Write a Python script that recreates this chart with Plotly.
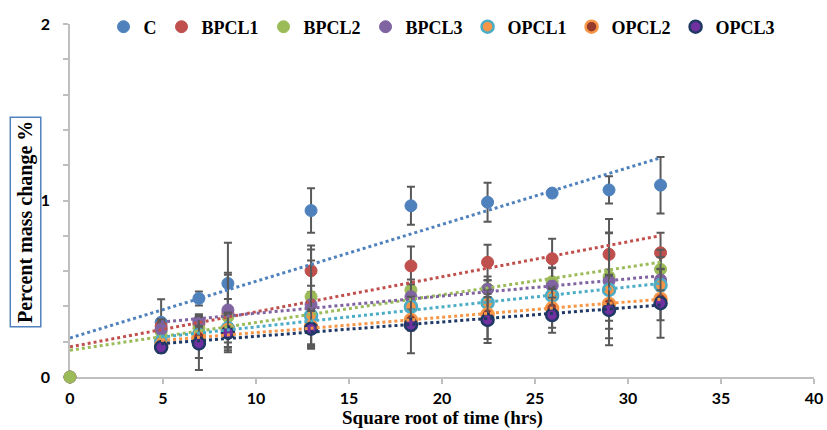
import numpy as np
import plotly.graph_objects as go

# Square root of exposure time (hrs^0.5)
sqrt_time = [0, 4.90, 6.93, 8.49, 12.96, 18.33, 22.45, 25.92, 28.98, 31.75]

# Mean percent mass change per mix (None = no reading at that time)
c_vals = [0, 0.310, 0.445, 0.530, 0.943, 0.970, 0.990, 1.042, 1.060, 1.087]
bpcl1_vals = [0, 0.287, 0.300, 0.360, 0.602, 0.629, 0.650, 0.670, 0.695, 0.704]
bpcl2_vals = [0, 0.257, 0.276, 0.342, 0.455, 0.493, 0.500, 0.540, 0.568, 0.610]
bpcl3_vals = [None, 0.270, 0.316, 0.380, 0.410, 0.455, 0.497, 0.516, 0.544, 0.550]
opcl1_vals = [None, 0.200, 0.238, 0.276, 0.347, 0.398, 0.421, 0.461, 0.493, 0.521]
opcl2_vals = [None, 0.176, 0.228, 0.266, 0.285, 0.323, 0.355, 0.389, 0.414, 0.442]
opcl3_vals = [None, 0.168, 0.190, 0.251, 0.274, 0.295, 0.323, 0.351, 0.380, 0.418]

# Standard deviations
c_err = [0, 0.13, 0.04, 0.23, 0.126, 0.108, 0.111, 0.023, 0.077, 0.16]
bpcl1_err = [0, 0.04, 0.05, 0.22, 0.12, 0.11, 0.10, 0.113, 0.20, 0.113]
bpcl2_err = [0, 0.05, 0.06, 0.10, 0.29, 0.06, 0.07, 0.08, 0.25, 0.07]
bpcl3_err = [None, 0.05, 0.04, 0.21, 0.25, 0.07, 0.05, 0.10, 0.27, 0.06]
opcl1_err = [None, 0.03, 0.05, 0.08, 0.17, 0.05, 0.05, 0.05, 0.08, 0.20]
opcl2_err = [None, 0.03, 0.12, 0.10, 0.10, 0.06, 0.14, 0.11, 0.195, 0.05]
opcl3_err = [None, 0.03, 0.15, 0.10, 0.10, 0.16, 0.13, 0.10, 0.20, 0.195]

series = [
    # name, values, errors, marker fill, marker outline, trendline colour
    ("C", c_vals, c_err, "#4F81BD", "#4F81BD", "#4F81BD"),
    ("BPCL1", bpcl1_vals, bpcl1_err, "#C0504D", "#C0504D", "#C0504D"),
    ("BPCL2", bpcl2_vals, bpcl2_err, "#9BBB59", "#9BBB59", "#9BBB59"),
    ("BPCL3", bpcl3_vals, bpcl3_err, "#8064A2", "#8064A2", "#8064A2"),
    ("OPCL1", opcl1_vals, opcl1_err, "#F79646", "#4BACC6", "#4BACC6"),
    ("OPCL2", opcl2_vals, opcl2_err, "#963A2C", "#F79646", "#F79646"),
    ("OPCL3", opcl3_vals, opcl3_err, "#7030A0", "#1F3864", "#1F3864"),
]

fig = go.Figure()
trends = []
for name, vals, errs, fill, edge, tcol in series:
    pts = [(x, v, e) for x, v, e in zip(sqrt_time, vals, errs) if v is not None]
    xs = [p[0] for p in pts]
    ys = [p[1] for p in pts]
    es = [p[2] for p in pts]
    ring = 2.5 if fill != edge else 1
    fig.add_trace(go.Scatter(
        x=xs, y=ys, mode="markers", name=name,
        marker=dict(size=12, color=fill, line=dict(color=edge, width=ring)),
        error_y=dict(type="data", array=es, visible=True,
                     color="#595959", thickness=2, width=4),
        cliponaxis=False,
    ))
    # linear least-squares trendline over the measured span
    slope, icpt = np.polyfit(xs, ys, 1)
    tx = [min(xs), max(xs)]
    trends.append(go.Scatter(
        x=tx, y=[icpt + slope * t for t in tx], mode="lines",
        line=dict(color=tcol, width=3, dash="dot"),
        showlegend=False, hoverinfo="skip",
    ))
for t in trends:
    fig.add_trace(t)

tick_font = dict(family="Lato", size=16, color="#000000", weight="bold")
title_font = dict(family="Liberation Serif", size=19, color="#000000", weight="bold")
axis_col = "#BFBFBF"

fig.update_layout(
    width=827, height=430,
    margin=dict(l=70, r=13, t=24, b=53, autoexpand=False),
    plot_bgcolor="white", paper_bgcolor="white",
    showlegend=True,
    legend=dict(
        orientation="h", x=0.5, xanchor="center", y=0.9915, yanchor="middle",
        font=dict(family="Liberation Serif", size=18, color="#000000", weight="bold"),
        bgcolor="rgba(0,0,0,0)", itemwidth=30,
    ),
    xaxis=dict(
        range=[0, 40], tickvals=[0, 5, 10, 15, 20, 25, 30, 35, 40],
        showgrid=False, zeroline=False, showline=True, linecolor=axis_col, linewidth=1.5,
        ticks="outside", ticklen=5, tickcolor=axis_col, tickwidth=1.5,
        tickfont=tick_font, ticklabelstandoff=1, layer="below traces", automargin=False,
    ),
    yaxis=dict(
        range=[0, 2], tickvals=[0, 1, 2],
        showgrid=False, zeroline=False, showline=True, linecolor=axis_col, linewidth=1.5,
        ticks="outside", ticklen=5, tickcolor=axis_col, tickwidth=1.5,
        minor=dict(dtick=0.2, ticks="outside", ticklen=5, tickcolor=axis_col, tickwidth=1.5),
        tickfont=tick_font, ticklabelstandoff=10, layer="below traces", automargin=False,
    ),
    annotations=[
        dict(
            text="Square root of time (hrs)",
            xref="paper", yref="paper", x=0.5, y=-0.1501,
            xanchor="center", yanchor="bottom", showarrow=False,
            font=title_font, borderpad=0,
        ),
        dict(
            text="Percent mass change %", textangle=-90,
            xref="paper", yref="paper", x=-0.0591, y=0.4377,
            xanchor="center", yanchor="middle", showarrow=False,
            font=dict(title_font, size=20),
            bordercolor="#4F81BD", borderwidth=1.5, borderpad=3,
        ),
    ],
)

fig.write_html("out.html")
